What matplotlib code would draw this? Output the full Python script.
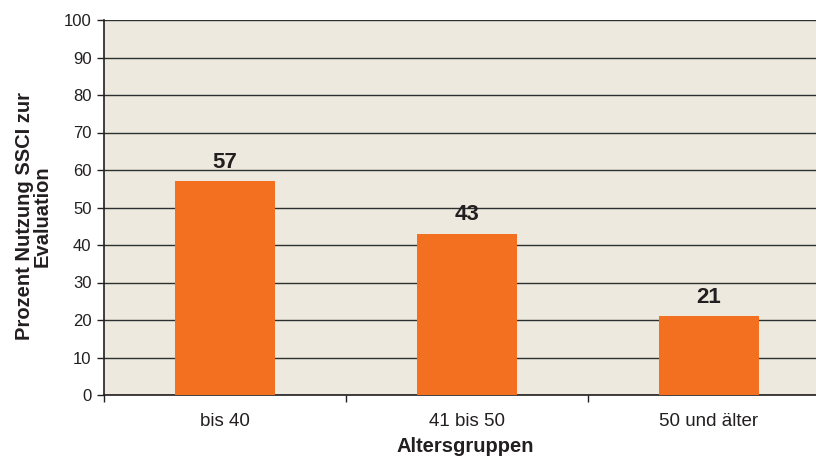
import matplotlib.pyplot as plt

plt.rcParams['font.family'] = ['Liberation Sans', 'DejaVu Sans']

categories = ['bis 40', '41 bis 50', '50 und älter']
werte = [57, 43, 21]
y_ticks = [0, 10, 20, 30, 40, 50, 60, 70, 80, 90, 100]

text_farbe = '#231f20'

fig = plt.figure(figsize=(8.16, 4.59), dpi=100)
ax = fig.add_axes([104 / 816, 64 / 459, 726 / 816, 375 / 459])
ax.set_facecolor('#eee9de')

x = range(len(categories))
ax.bar(x, werte, width=0.41, color='#f37021', zorder=3)

for i, v in zip(x, werte):
    ax.annotate(str(v), (i, v), xytext=(0, 6), textcoords='offset points',
                ha='center', va='bottom', fontsize=16, fontweight='bold',
                color=text_farbe)

ax.set_xlim(-0.5, 2.5)
ax.set_ylim(0, 100)
ax.set_yticks(y_ticks)
ax.yaxis.grid(True, color='#2b3030', linewidth=1.0, zorder=1)
ax.set_axisbelow(True)

# Ticks an den Kategoriegrenzen, Beschriftungen in der Mitte
ax.set_xticks([-0.5, 0.5, 1.5, 2.5])
ax.set_xticklabels([])
ax.set_xticks(list(x), minor=True)
ax.set_xticklabels(categories, minor=True)
ax.tick_params(axis='x', which='minor', length=0, pad=13, labelsize=13.5,
               labelcolor=text_farbe)
ax.tick_params(axis='x', which='major', length=5, color=text_farbe, width=1)
ax.tick_params(axis='y', length=5, color=text_farbe, width=1, labelsize=12,
               labelcolor=text_farbe, pad=4)

for side in ['top', 'right']:
    ax.spines[side].set_visible(False)
ax.spines['left'].set_color(text_farbe)
ax.spines['bottom'].set_color(text_farbe)
ax.spines['left'].set_linewidth(1.2)
ax.spines['bottom'].set_linewidth(1.2)

ax.set_xlabel('Altersgruppen', fontsize=14.5, fontweight='bold', color=text_farbe)
ax.set_ylabel('Prozent Nutzung SSCI zur\nEvaluation', fontsize=14.5,
              fontweight='bold', color=text_farbe, linespacing=0.95)
ax.xaxis.set_label_coords((465 - 104) / 726, -0.112)
ax.yaxis.set_label_coords(-0.0716, 0.477)

fig.savefig('out.png', dpi=100)
